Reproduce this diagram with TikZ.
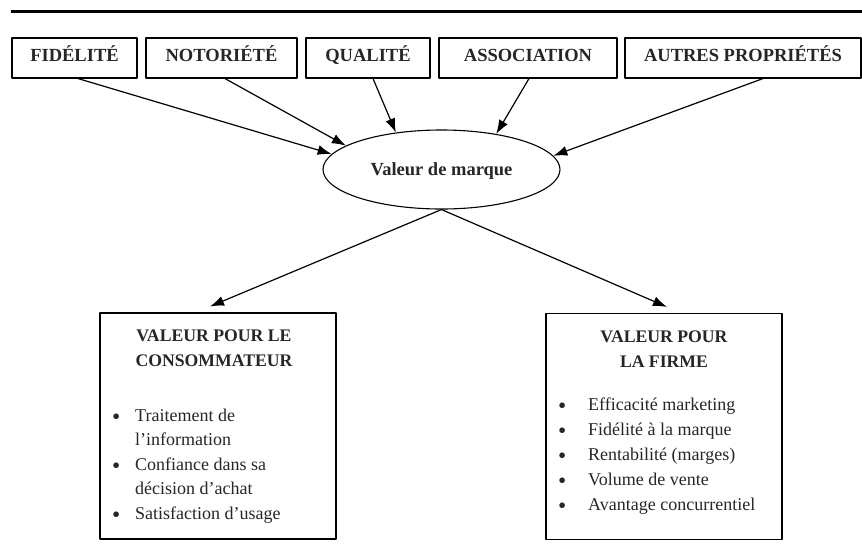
\documentclass[tikz,border=0pt]{standalone}
\usepackage{fontspec}
\setmainfont{Liberation Serif}
\usepackage{graphicx}
\usepackage{tikz}
\usetikzlibrary{positioning}
\usetikzlibrary{arrows.meta}
\usetikzlibrary{shapes.geometric}
\newcommand{\listdot}{\raisebox{-3.5pt}{\scalebox{1.3}{\textbullet}}}

\begin{document}
\begin{tikzpicture}[>={Latex[length=14pt,width=10pt]},line join=bevel,x=1pt,y=-1pt,
        topbox/.style={rectangle,draw,line width=1.1pt,minimum height=40pt,inner sep=0pt,text height=11pt,text depth=4pt,text=black!85,font=\fontsize{18.5}{22}\selectfont\bfseries},
        valuebox/.style={rectangle,draw,line width=1.1pt,minimum width=236pt,minimum height=226pt},
        heading/.style={align=center,inner sep=0pt,text=black!85,font=\fontsize{17.7}{25}\selectfont\bfseries},
        bullets/.style={align=left,inner sep=0pt,anchor=west,text=black!85},
        link/.style={color=black,line width=1.2pt,->}]
        \useasboundingbox (0,0) rectangle (862,552);
        %
        \draw [line width=3pt] (11,11) -- (862,11);
        %
        \node (fidelite) at (74.5,58) [topbox,minimum width=125pt] {FIDÉLITÉ};
        \node (notoriete) at (221.5,58) [topbox,minimum width=151pt] {NOTORIÉTÉ};
        \node (qualite) at (368,58) [topbox,minimum width=124pt] {QUALITÉ};
        \node (association) at (528,58) [topbox,minimum width=178pt] {ASSOCIATION};
        \node (autres) at (743,58) [topbox,minimum width=236pt] {AUTRES PROPRIÉTÉS};
        %
        \node (valeur) at (441.5,169.5) [ellipse,draw,line width=1.1pt,minimum width=237pt,minimum height=79pt,inner sep=0pt,text height=15pt,text depth=4pt,text=black!85,font=\fontsize{18.5}{22}\selectfont\bfseries] {Valeur de marque};
        %
        \node (consommateur) at (218,426) [valuebox] {};
        \node (firme) at (664,426.5) [valuebox] {};
        \node (conshead) at (214,348) [heading] {VALEUR POUR LE\\CONSOMMATEUR};
        \node (firmhead) at (664,349) [heading] {VALEUR POUR\\LA FIRME};
        \node (conslist) at (112,466) [bullets,font=\fontsize{18}{24.5}\selectfont]
            {\makebox[23pt][l]{\listdot}Traitement de\\\hspace*{23pt}l’information\\
             \makebox[23pt][l]{\listdot}Confiance dans sa\\\hspace*{23pt}décision d’achat\\
             \makebox[23pt][l]{\listdot}Satisfaction d’usage};
        \node (firmlist) at (558,456) [bullets,font=\fontsize{18}{25}\selectfont]
            {\makebox[30pt][l]{\listdot}Efficacité marketing\\
             \makebox[30pt][l]{\listdot}Fidélité à la marque\\
             \makebox[30pt][l]{\listdot}Rentabilité (marges)\\
             \makebox[30pt][l]{\listdot}Volume de vente\\
             \makebox[30pt][l]{\listdot}Avantage concurrentiel};
        %
        \draw [link] ([xshift=3.5pt]fidelite.south) to (valeur.172);
        \draw [link] ([xshift=3.5pt]notoriete.south) to (valeur.166.6);
        \draw [link] ([xshift=5pt]qualite.south) to (valeur.141);
        \draw [link] ([xshift=1pt]association.south) to (valeur.33);
        \draw [link] ([xshift=20pt]autres.south) to (valeur.7);
        \draw [link] (valeur.south) to ([xshift=-8pt,yshift=6pt]consommateur.north);
        \draw [link] (valeur.south) to ([xshift=3pt,yshift=6pt]firme.north);
        %
    \end{tikzpicture}
\end{document}
